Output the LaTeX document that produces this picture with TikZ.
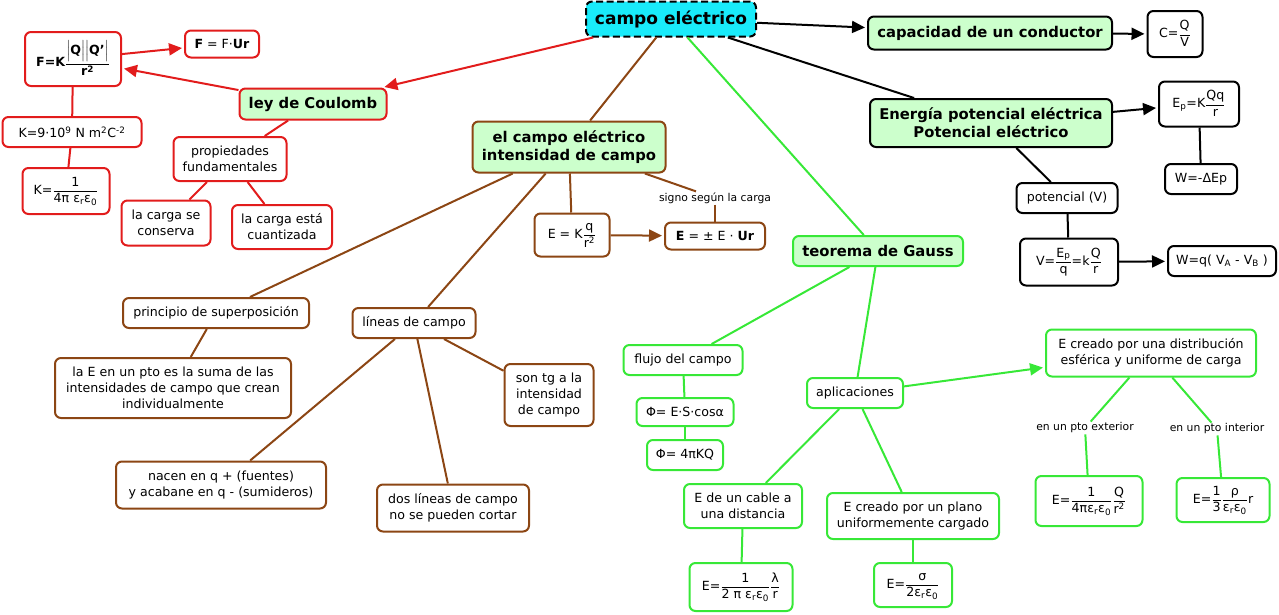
\documentclass[tikz,border=0pt]{standalone}
\usepackage{amsmath}
\usepackage{fontspec}
\setmainfont{DejaVu Sans}
\usetikzlibrary{arrows.meta}
\definecolor{redc}{RGB}{226,28,28}
\definecolor{brownc}{RGB}{140,70,20}
\definecolor{greenc}{RGB}{55,232,55}
\definecolor{lightg}{RGB}{204,255,204}
\definecolor{cyanf}{RGB}{25,235,250}
\newcommand{\tx}[1]{\text{#1}}
\newcommand{\fr}[2]{\dfrac{\rule[-1.5pt]{0pt}{11pt}#1}{\rule[-1.5pt]{0pt}{11pt}#2}}
\begin{document}
\begin{tikzpicture}[x=1pt,y=-1pt,
  box/.style={draw, rounded corners=6pt, line width=2pt, fill=white, align=center,
    inner sep=1pt, font=\fontsize{12.6}{16}\selectfont},
  rb/.style={box, draw=redc},
  bb/.style={box, draw=brownc},
  gb/.style={box, draw=greenc},
  kb/.style={box, draw=black},
  ttl/.style={fill=lightg, font=\fontsize{14.8}{18}\selectfont\bfseries},
  lbl/.style={inner sep=1pt, font=\fontsize{10.8}{12}\selectfont},
  rl/.style={draw=redc, line width=2pt},
  bl/.style={draw=brownc, line width=2pt},
  gl/.style={draw=greenc, line width=2pt},
  kl/.style={draw=black, line width=2pt},
  arr/.style={-{Triangle[length=13pt,width=12pt]}, shorten >=2pt}
]
\useasboundingbox (0,0) rectangle (1279,614);

% ---- nodes ----
\node[kb, fill=cyanf, dash pattern=on 7pt off 3.5pt, minimum width=170pt, minimum height=35pt,
  font=\fontsize{17}{20}\selectfont\bfseries] (ce) at (671,19) {campo eléctrico};
\node[kb, ttl, minimum width=244pt, minimum height=33pt] (cap) at (990,33) {capacidad de un conductor};
\node[kb, minimum width=55pt, minimum height=46pt] (capf) at (1175,34) {C=$\fr{\tx{Q}}{\tx{V}}$};
\node[kb, ttl, minimum width=242pt, minimum height=48pt] (ener) at (991,123) {Energía potencial eléctrica\\Potencial eléctrico};
\node[kb, minimum width=80pt, minimum height=45pt] (ep) at (1199,104) {E$_{\tx{p}}$=K$\fr{\tx{Qq}}{\tx{r}}$};
\node[kb, minimum width=72pt, minimum height=30pt] (wdep) at (1201,179) {W=-ΔEp};
\node[kb, minimum width=101pt, minimum height=30pt] (pot) at (1067,198) {potencial (V)};
\node[kb, minimum width=98pt, minimum height=47pt] (vf) at (1069,262) {V=$\fr{\tx{E}_{\tx{p}}}{\tx{q}}$=k$\fr{\tx{Q}}{\tx{r}}$};
\node[kb, minimum width=108pt, minimum height=30pt] (wq) at (1222,261) {W=q( V$_{\tx{A}}$ - V$_{\tx{B}}$ )};
\node[gb, ttl, minimum width=170pt, minimum height=30pt] (gauss) at (878,251) {teorema de Gauss};

\node[rb, ttl, minimum width=147pt, minimum height=31pt] (coul) at (313,104) {ley de Coulomb};
\node[rb, minimum width=96pt, minimum height=54pt, font=\fontsize{12.6}{16}\selectfont\bfseries] (fk) at (73,59)
  {F=K$\fr{\boldsymbol{\Bigl|}\tx{\bfseries Q}\boldsymbol{\Bigr|\Bigl|}\tx{\bfseries Q'}\boldsymbol{\Bigr|}}{\tx{\bfseries r}^{\tx{\bfseries 2}}}$};
\node[rb, minimum width=74pt, minimum height=27pt] (fu) at (222,44) {\textbf{F} = F·\textbf{Ur}};
\node[rb, minimum width=139pt, minimum height=30pt] (k9) at (72,132) {K=9·10$^{\tx{9}}$ N m$^{\tx{2}}$C$^{\tx{-2}}$};
\node[rb, minimum width=87pt, minimum height=46pt] (k1) at (66,191) {K=$\fr{\tx{1}}{\tx{4π ε}_{\tx{r}}\tx{ε}_{\tx{0}}}$};
\node[rb, minimum width=113pt, minimum height=44pt] (prop) at (230,159) {propiedades\\fundamentales};
\node[rb, minimum width=89pt, minimum height=45pt] (cons) at (166,223) {la carga se\\conserva};
\node[rb, minimum width=100pt, minimum height=44pt] (cuan) at (282,227) {la carga está\\cuantizada};

\node[bb, ttl, minimum width=193pt, minimum height=51pt] (eci) at (569,147) {el campo eléctrico\\intensidad de campo};
\node[bb, minimum width=75pt, minimum height=43pt] (ekq) at (572,235) {E = K$\fr{\tx{q}}{\tx{r}^{\tx{2}}}$};
\node[lbl] (signo) at (715,198) {signo según la carga};
\node[bb, minimum width=100pt, minimum height=27pt] (epm) at (715,236) {\textbf{E} = ± E · \textbf{Ur}};
\node[bb, minimum width=186pt, minimum height=30pt] (sup) at (216,313) {principio de superposición};
\node[bb, minimum width=236pt, minimum height=60pt] (suma) at (173,388) {la E en un pto es la suma de las\\intensidades de campo que crean\\individualmente};
\node[bb, minimum width=123pt, minimum height=30pt] (lin) at (414,323) {líneas de campo};
\node[bb, minimum width=89pt, minimum height=62pt] (tg) at (549,395) {son tg a la\\intensidad\\de campo};
\node[bb, minimum width=210pt, minimum height=47pt] (nac) at (221,485) {nacen en q + (fuentes)\\y acabane en q - (sumideros)};
\node[bb, minimum width=152pt, minimum height=47pt] (dos) at (453,508) {dos líneas de campo\\no se pueden cortar};

\node[gb, minimum width=119pt, minimum height=30pt] (flu) at (683,360) {flujo del campo};
\node[gb, minimum width=97pt, minimum height=28pt] (phi1) at (685,412) {Φ= E·S·cosα};
\node[gb, minimum width=76pt, minimum height=30pt] (phi2) at (685,455) {Φ= 4πKQ};
\node[gb, minimum width=96pt, minimum height=30pt] (apl) at (855,393) {aplicaciones};
\node[gb, minimum width=118pt, minimum height=44pt] (cab) at (743,506) {E de un cable a\\una distancia};
\node[gb, minimum width=172pt, minimum height=46pt] (pla) at (913,516) {E creado por un plano\\uniformemente cargado};
\node[gb, minimum width=103pt, minimum height=48pt] (cabf) at (741,587)
  {E=$\fr{\tx{1}}{\tx{2 π ε}_{\tx{r}}\tx{ε}_{\tx{0}}}\fr{\tx{λ}}{\tx{r}}$};
\node[gb, minimum width=78pt, minimum height=44pt] (plaf) at (913,585)
  {E=$\fr{\tx{σ}}{\tx{2ε}_{\tx{r}}\tx{ε}_{\tx{0}}}$};
\node[gb, minimum width=210pt, minimum height=47pt] (esf) at (1151,353) {E creado por una distribución\\esférica y uniforme de carga};
\node[lbl] (ext) at (1085,428) {en un pto exterior};
\node[lbl] (int) at (1217,429) {en un pto interior};
\node[gb, minimum width=107pt, minimum height=50pt] (extf) at (1089,501)
  {E=$\fr{\tx{1}}{\tx{4πε}_{\tx{r}}\tx{ε}_{\tx{0}}}\fr{\tx{Q}}{\tx{r}^{\tx{2}}}$};
\node[gb, minimum width=93pt, minimum height=44pt] (intf) at (1223,500)
  {E=$\fr{\tx{1}}{\tx{3}}\fr{\tx{ρ}}{\tx{ε}_{\tx{r}}\tx{ε}_{\tx{0}}}$r};

% ---- connectors ----
\draw[rl, arr] (ce) -- (coul);
\draw[bl] (ce) -- (eci);
\draw[gl] (ce) -- (gauss);
\draw[kl, arr] (ce) -- (cap);
\draw[kl] (ce) -- (ener);
\draw[kl, arr] (cap) -- (capf);
\draw[kl, arr] (ener) -- (ep);
\draw[kl] (ep) -- (wdep);
\draw[kl] (ener) -- (pot);
\draw[kl] (pot) -- (vf);
\draw[kl, arr] (vf) -- (wq);

\draw[rl, arr] (coul) -- (fk);
\draw[rl, arr] (fk) -- (fu);
\draw[rl] (fk) -- (k9);
\draw[rl] (k9) -- (k1);
\draw[rl] (coul) -- (prop);
\draw[rl] (prop) -- (cons);
\draw[rl] (prop) -- (cuan);

\draw[bl] (eci) -- (sup);
\draw[bl] (eci) -- (lin);
\draw[bl] (eci) -- (ekq);
\draw[bl] (eci) -- (signo);
\draw[bl] (signo) -- (epm);
\draw[bl, arr] (ekq) -- (epm);
\draw[bl] (sup) -- (suma);
\draw[bl] (lin) -- (nac);
\draw[bl] (lin) -- (dos);
\draw[bl] (lin) -- (tg);

\draw[gl] (gauss) -- (flu);
\draw[gl] (gauss) -- (apl);
\draw[gl] (flu) -- (phi1);
\draw[gl] (phi1) -- (phi2);
\draw[gl, arr] (apl) -- (esf);
\draw[gl] (apl) -- (cab);
\draw[gl] (apl) -- (pla);
\draw[gl] (cab) -- (cabf);
\draw[gl] (pla) -- (plaf);
\draw[gl] (esf) -- (ext);
\draw[gl] (ext) -- (extf);
\draw[gl] (esf) -- (int);
\draw[gl] (int) -- (intf);
\end{tikzpicture}
\end{document}
